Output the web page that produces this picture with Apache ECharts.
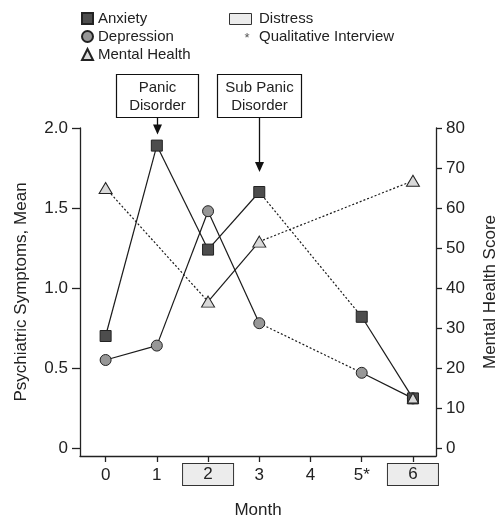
<!DOCTYPE html>
<html>
<head>
<meta charset="utf-8">
<script src="https://cdn.jsdelivr.net/npm/echarts@6/dist/echarts.min.js"></script>
<style>html,body{margin:0;padding:0;background:#fff}#main{width:500px;height:517px}</style>
</head>
<body>
<div id="main"></div>
<script>
// ---------- data ----------
const months = [0, 1, 2, 3, 5, 6];
const monthTicks = [0, 1, 2, 3, 4, 5, 6];
const monthTickLabels = ['0', '1', '2', '3', '4', '5*', '6'];
const distressMonths = [2, 6];
const anxiety = [0.70, 1.89, 1.24, 1.60, 0.82, 0.31];
const depression = [0.55, 0.64, 1.48, 0.78, 0.47, 0.31];
const mentalHealthMonths = [0, 2, 3, 6];
const mentalHealth = [65, 36.6, 51.6, 66.8];
const mentalHealthExtraMonths = [6];
const mentalHealthExtra = [12.5];
const leftTicks = [0, 0.5, 1.0, 1.5, 2.0];
const rightTicks = [0, 10, 20, 30, 40, 50, 60, 70, 80];
const annotations = [
  { month: 1, lines: ['Panic', 'Disorder'], tip: 1.96 },
  { month: 3, lines: ['Sub Panic', 'Disorder'], tip: 1.725 }
];

// ---------- styles ----------
const FONT = '"Liberation Sans", Arial, Helvetica, sans-serif';
const INK = '#222';
const anxietySeg = ['solid', 'solid', 'solid', 'dotted', 'solid'];
const depressionSeg = ['solid', 'solid', 'solid', 'dotted', 'solid'];
const mentalSeg = ['dotted', 'solid', 'dotted'];

function segSeries(xs, ys, styles, yAxisIndex, id) {
  const out = [];
  for (let i = 0; i < xs.length - 1; i++) {
    out.push({
      type: 'line', id: id + i, yAxisIndex: yAxisIndex, symbol: 'none', silent: true,
      z: 2,
      data: [[xs[i], ys[i]], [xs[i + 1], ys[i + 1]]],
      lineStyle: { color: '#1a1a1a', width: 1.2, type: styles[i] === 'dotted' ? [2, 2] : 'solid' }
    });
  }
  return out;
}
function pts(xs, ys) { return xs.map((x, i) => [x, ys[i]]); }

const chart = echarts.init(document.getElementById('main'));

const series = [].concat(
  segSeries(months, anxiety, anxietySeg, 0, 'a'),
  segSeries(months, depression, depressionSeg, 0, 'd'),
  segSeries(mentalHealthMonths, mentalHealth, mentalSeg, 1, 'm'),
  [
    { type: 'scatter', name: 'Depression', yAxisIndex: 0, z: 3, symbol: 'circle', symbolSize: 11,
      itemStyle: { color: '#979797', borderColor: '#222', borderWidth: 1, opacity: 1 },
      data: pts(months, depression) },
    { type: 'scatter', name: 'Anxiety', yAxisIndex: 0, z: 4, symbol: 'rect', symbolSize: 11,
      itemStyle: { color: '#4d4d4d', borderColor: '#222', borderWidth: 1, opacity: 1 },
      data: pts(months, anxiety) },
    { type: 'scatter', name: 'Mental Health', yAxisIndex: 1, z: 5, symbol: 'triangle', symbolSize: [13, 11],
      itemStyle: { color: '#d9d9d9', borderColor: '#222', borderWidth: 1, opacity: 1 },
      data: pts(mentalHealthMonths, mentalHealth) },
    { type: 'scatter', name: 'Mental Health', yAxisIndex: 1, z: 5, symbol: 'triangle', symbolSize: [11, 10],
      itemStyle: { color: '#d9d9d9', borderColor: '#222', borderWidth: 1, opacity: 1 },
      data: pts(mentalHealthExtraMonths, mentalHealthExtra) }
  ]
);

const axisLineStyle = { show: true, onZero: false, lineStyle: { color: INK, width: 1.3 } };

chart.setOption({
  animation: false,
  textStyle: { fontFamily: FONT, color: INK },
  grid: { left: 80, right: 64, top: 128, bottom: 61, containLabel: false, outerBoundsMode: 'none' },
  legend: {
    data: ['Anxiety', 'Depression', 'Mental Health'],
    orient: 'vertical', left: 81, top: 11, itemGap: 3, padding: 0,
    itemWidth: 11, itemHeight: 11,
    textStyle: { fontFamily: FONT, fontSize: 15, color: INK },
    selectedMode: false
  },
  xAxis: {
    type: 'value', min: -0.5, max: 6.45,
    name: 'Month', nameLocation: 'middle', nameGap: 46,
    nameTextStyle: { fontFamily: FONT, fontSize: 17, color: INK },
    axisLine: axisLineStyle,
    axisTick: { show: true, inside: false, length: 6, customValues: monthTicks, lineStyle: { color: INK, width: 1.3 } },
    axisLabel: {
      customValues: monthTicks, margin: 8, fontFamily: FONT, fontSize: 17, color: INK,
      formatter: function (v) {
        const i = monthTicks.indexOf(v);
        const t = monthTickLabels[i];
        return distressMonths.indexOf(v) >= 0 ? '{box|' + t + '}' : '{n|' + t + '}';
      },
      rich: {
        n: { fontFamily: FONT, fontSize: 17, color: INK, height: 22, lineHeight: 22 },
        box: { fontFamily: FONT, fontSize: 17, color: INK, height: 21, lineHeight: 21, width: 50, align: 'center',
               backgroundColor: '#ececec', borderColor: '#333', borderWidth: 1 }
      }
    },
    splitLine: { show: false }
  },
  yAxis: [
    {
      type: 'value', position: 'left', min: -0.05, max: 2.0,
      name: 'Psychiatric Symptoms, Mean', nameLocation: 'middle', nameGap: 50, nameRotate: 90,
      nameTextStyle: { fontFamily: FONT, fontSize: 17, color: INK },
      axisLine: axisLineStyle,
      axisTick: { show: true, length: 8, customValues: leftTicks, lineStyle: { color: INK, width: 1.3 } },
      axisLabel: { customValues: leftTicks, margin: 12, fontFamily: FONT, fontSize: 17, color: INK,
        formatter: v => v === 0 ? '0' : v.toFixed(1) },
      splitLine: { show: false }
    },
    {
      type: 'value', position: 'right', min: -2, max: 80,
      name: 'Mental Health Score', nameLocation: 'middle', nameGap: 46, nameRotate: 90,
      nameTextStyle: { fontFamily: FONT, fontSize: 17, color: INK },
      axisLine: axisLineStyle,
      axisTick: { show: true, length: 6, customValues: rightTicks, lineStyle: { color: INK, width: 1.3 } },
      axisLabel: { customValues: rightTicks, margin: 10, fontFamily: FONT, fontSize: 17, color: INK,
        formatter: v => String(v) },
      splitLine: { show: false }
    }
  ],
  series: series
});

// ---------- graphics: extra legend entries and annotations ----------
const g = [];
g.push({ type: 'rect', shape: { x: 229.5, y: 13.5, width: 22, height: 11 },
  style: { fill: '#ececec', stroke: '#333', lineWidth: 1 } });
g.push({ type: 'text', x: 259, y: 19, style: { text: 'Distress', font: '15px ' + FONT, fill: INK, textVerticalAlign: 'middle' } });
g.push({ type: 'text', x: 247, y: 38, style: { text: '*', font: '13px ' + FONT, fill: '#555', textAlign: 'center', textVerticalAlign: 'middle' } });
g.push({ type: 'text', x: 259, y: 37, style: { text: 'Qualitative Interview', font: '15px ' + FONT, fill: INK, textVerticalAlign: 'middle' } });

annotations.forEach(function (a) {
  const cx = Math.round(chart.convertToPixel({ xAxisIndex: 0 }, a.month)) + 0.5;
  const tipY = chart.convertToPixel({ yAxisIndex: 0 }, a.tip);
  const w = a.lines[0].length > 6 ? 84 : 82;
  const boxTop = 74.5, boxBottom = 117.5;
  g.push({ type: 'rect', shape: { x: cx - w / 2, y: boxTop, width: w, height: boxBottom - boxTop },
    style: { fill: '#fff', stroke: '#111', lineWidth: 1.2 } });
  g.push({ type: 'text', x: cx, y: 88, style: { text: a.lines[0], font: '15px ' + FONT, fill: INK, textAlign: 'center', textVerticalAlign: 'middle' } });
  g.push({ type: 'text', x: cx, y: 106, style: { text: a.lines[1], font: '15px ' + FONT, fill: INK, textAlign: 'center', textVerticalAlign: 'middle' } });
  g.push({ type: 'line', shape: { x1: cx, y1: boxBottom, x2: cx, y2: tipY - 6 }, style: { stroke: '#111', lineWidth: 1.3 } });
  g.push({ type: 'polygon', shape: { points: [[cx - 4.5, tipY - 10], [cx + 4.5, tipY - 10], [cx, tipY]] }, style: { fill: '#111' } });
});
chart.setOption({ graphic: g });
</script>
</body>
</html>
